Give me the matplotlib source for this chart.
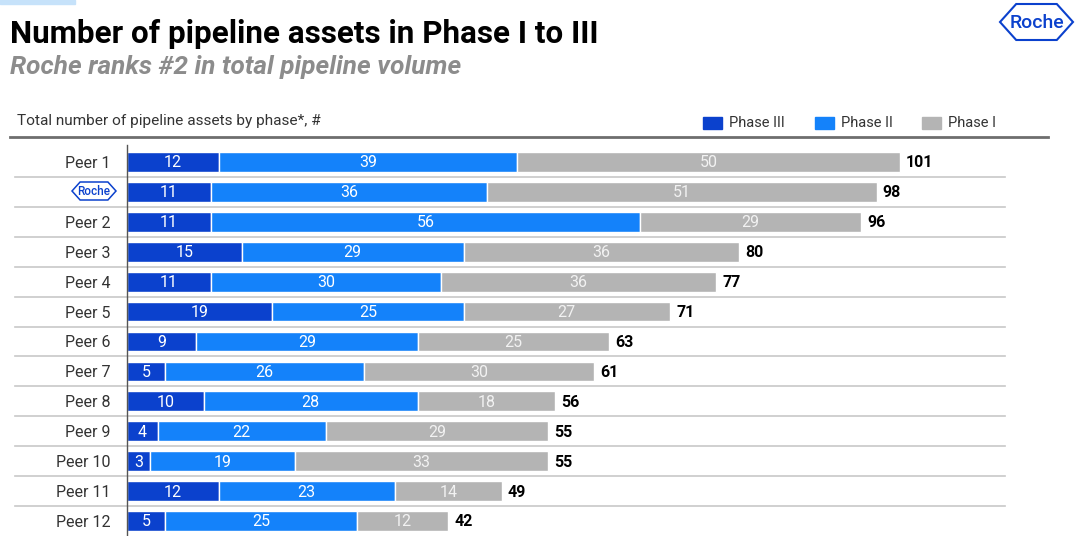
import matplotlib.pyplot as plt
from matplotlib.patches import Polygon, Rectangle
from matplotlib.lines import Line2D
import matplotlib.transforms as mtransforms

plt.rcParams['font.family'] = ['Roboto', 'DejaVu Sans']

companies = ['Peer 1', 'Roche', 'Peer 2', 'Peer 3', 'Peer 4', 'Peer 5', 'Peer 6',
             'Peer 7', 'Peer 8', 'Peer 9', 'Peer 10', 'Peer 11', 'Peer 12']
phase3 = [12, 11, 11, 15, 11, 19, 9, 5, 10, 4, 3, 12, 5]
phase2 = [39, 36, 56, 29, 30, 25, 29, 26, 28, 22, 19, 23, 25]
phase1 = [50, 51, 29, 36, 36, 27, 25, 30, 18, 29, 33, 14, 12]
phases = ['Phase III', 'Phase II', 'Phase I']
colors = ['#0b41cd', '#1482fa', '#b4b4b4']
text_colors = ['#ffffff', '#ffffff', '#f2f2f2']
roche_blue = '#0b41cd'

W, H = 1080, 536
fig = plt.figure(figsize=(W / 100, H / 100), dpi=100)


def fx(px):
    return px / W


def fy(py):
    return 1 - py / H


def roche_logo(x0, x1, y0, y1, size, lw):
    # hexagon outline plus the wordmark, in pixel coords (y from top)
    h = (y1 - y0) / 2
    ym = (y0 + y1) / 2
    pts = [(x0, ym), (x0 + h * 0.9, y0), (x1 - h * 0.9, y0), (x1, ym),
           (x1 - h * 0.9, y1), (x0 + h * 0.9, y1)]
    fig.patches.append(Polygon([(fx(a), fy(b)) for a, b in pts], closed=True,
                               fill=False, edgecolor=roche_blue, lw=lw,
                               transform=fig.transFigure))
    fig.text(fx((x0 + x1) / 2), fy(ym + 0.5), 'Roche', color=roche_blue, fontsize=size,
             ha='center', va='center', fontweight='medium')


# top accent strip
fig.patches.append(Rectangle((0, fy(4)), fx(75), 4 / H, color='#c6e2fa',
                             transform=fig.transFigure, zorder=0))

fig.text(fx(10), fy(34), 'Number of pipeline assets in Phase I to III', fontsize=22.6,
         fontweight='bold', color='#000000', va='center', ha='left')
fig.text(fx(10), fy(67), 'Roche ranks #2 in total pipeline volume', fontsize=18.8,
         fontweight='bold', style='italic', color='#8c8c8c', va='center', ha='left')
roche_logo(1000, 1073, 4, 40, 14, 1.5)

fig.text(fx(17), fy(121), 'Total number of pipeline assets by phase*, #', fontsize=11.1,
         color='#333333', va='center', ha='left')

# legend
leg_x = [703, 815, 922]
for lx, name, c in zip(leg_x, phases, colors):
    fig.patches.append(Rectangle((fx(lx), fy(129)), fx(19), 12 / H, color=c,
                                 transform=fig.transFigure))
    fig.text(fx(lx + 26), fy(123), name, fontsize=10.5, color='#333333',
             va='center', ha='left')

fig.add_artist(Line2D([fx(10), fx(1048)], [fy(137), fy(137)], color='#6e6e6e', lw=2,
                      transform=fig.transFigure))

ax = fig.add_axes([fx(127), 0, fx(1045) - fx(127), (536 - 145) / H])
n = len(companies)
ys = list(range(n))
left = [0] * n
for vals, c, tc in zip([phase3, phase2, phase1], colors, text_colors):
    ax.barh(ys, vals, left=left, height=0.66, color=c, edgecolor='white', lw=1)
    for y, v, l in zip(ys, vals, left):
        ax.text(l + v / 2, y + 0.03, str(v), ha='center', va='center', color=tc,
                fontsize=11.5)
    left = [a + b for a, b in zip(left, vals)]

for y, t in zip(ys, left):
    ax.text(t + 0.8, y + 0.03, str(t), ha='left', va='center', fontsize=11.5,
            fontweight='bold', color='#000000')

ax.set_xlim(0, 120)
ax.set_ylim(n - 1 + 15 / 30, -17 / 30)
ax.set_yticks(ys)
ax.set_yticklabels(['' if c == 'Roche' else c for c in companies], fontsize=11.5,
                   color='#333333')
ax.tick_params(axis='y', length=0, pad=12)
ax.set_xticks([])
for s in ['top', 'right', 'bottom']:
    ax.spines[s].set_visible(False)
ax.spines['left'].set_color('#555555')
ax.spines['left'].set_linewidth(1)

# row separators across the whole table
trans = mtransforms.blended_transform_factory(fig.transFigure, ax.transData)
for i in range(n - 1):
    ax.add_line(Line2D([fx(15), fx(1005)], [i + 0.5, i + 0.5], color='#c8c8c8',
                       lw=1.2, transform=trans, clip_on=False, zorder=0))

# small logo in place of the Roche tick label
roche_logo(72, 116, 182, 200, 8.5, 1.1)

fig.savefig('out.png', dpi=100)
